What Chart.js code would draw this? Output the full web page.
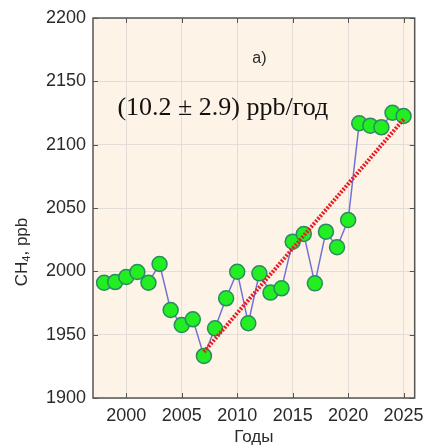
<!DOCTYPE html>
<html>
<head>
<meta charset="utf-8">
<script src="https://cdn.jsdelivr.net/npm/chart.js@4"></script>
<style>
  html, body { margin: 0; padding: 0; background: #fff; }
  #wrap { width: 431px; height: 448px; position: relative; }
</style>
</head>
<body>
<div id="wrap"><canvas id="ch4-chart" width="431" height="448"></canvas></div>
<script>
// Annual mean CH4, ppb
const years = [1998, 1999, 2000, 2001, 2002, 2003, 2004, 2005, 2006, 2007,
               2008, 2009, 2010, 2011, 2012, 2013, 2014, 2015, 2016, 2017,
               2018, 2019, 2020, 2021, 2022, 2023, 2024, 2025];
const ch4 = [1991, 1991.5, 1995.5, 1999.5, 1991, 2005.8, 1969.5, 1957.6, 1962.1, 1933.2,
             1955, 1978.7, 1999.7, 1959, 1998.4, 1983.2, 1986.6, 2023.4, 2029.5, 1990.5,
             2031.3, 2019, 2040.5, 2116.9, 2115, 2113.7, 2125.2, 2122.6];

// Linear trend 2007–2025, slope from the fit (ppb per year)
const trendYears = [2007, 2025];
const trendStart = 1936.4;
const trendSlope = 10.2;
const trendValues = trendYears.map(y => trendStart + trendSlope * (y - trendYears[0]));

const xTicks = [2000, 2005, 2010, 2015, 2020, 2025];
const yTicks = [1900, 1950, 2000, 2050, 2100, 2150, 2200];

const FONT = '"Liberation Sans", Arial, sans-serif';
const INK = '#2a2a2a';

// cream plot background, frame, inward tick marks and text labels
const framePlugin = {
  id: 'frame',
  beforeDraw(chart) {
    const a = chart.chartArea, c = chart.ctx;
    c.save();
    c.fillStyle = '#fdf3e6';
    c.fillRect(a.left, a.top, a.right - a.left, a.bottom - a.top);
    c.restore();
  },
  afterDraw(chart) {
    const a = chart.chartArea, c = chart.ctx;
    const xs = chart.scales.x, ys = chart.scales.y;
    c.save();
    c.strokeStyle = '#555';
    c.lineWidth = 1.5;
    c.strokeRect(a.left, a.top, a.right - a.left, a.bottom - a.top);
    c.lineWidth = 1;
    c.beginPath();
    xTicks.forEach(v => {
      const px = Math.round(xs.getPixelForValue(v)) + 0.5;
      c.moveTo(px, a.bottom); c.lineTo(px, a.bottom - 5);
      c.moveTo(px, a.top); c.lineTo(px, a.top + 5);
    });
    yTicks.forEach(v => {
      const py = Math.round(ys.getPixelForValue(v)) + 0.5;
      c.moveTo(a.left, py); c.lineTo(a.left + 5, py);
      c.moveTo(a.right, py); c.lineTo(a.right - 5, py);
    });
    c.stroke();

    c.fillStyle = INK;
    c.textAlign = 'center';
    c.textBaseline = 'middle';
    c.font = '16px ' + FONT;
    c.fillText('a)', xs.getPixelForValue(2012.0), ys.getPixelForValue(2168));
    c.fillStyle = '#111';
    c.font = '26px "Liberation Serif", "Times New Roman", serif';
    c.fillText('(10.2 ± 2.9) ppb/год', xs.getPixelForValue(2008.7), ys.getPixelForValue(2129));

    // y-axis title with subscript 4
    c.fillStyle = INK;
    c.translate(22, 252);
    c.rotate(-Math.PI / 2);
    c.textAlign = 'left';
    c.textBaseline = 'middle';
    const big = '17px ' + FONT, small = '11px ' + FONT;
    c.font = big;
    const w1 = c.measureText('CH').width, w3 = c.measureText(', ppb').width;
    c.font = small;
    const w2 = c.measureText('4').width;
    const x0 = -(w1 + w2 + w3) / 2;
    c.font = big;
    c.fillText('CH', x0, 0);
    c.font = small;
    c.fillText('4', x0 + w1, 5);
    c.font = big;
    c.fillText(', ppb', x0 + w1 + w2, 0);
    c.restore();
  },
};

new Chart(document.getElementById('ch4-chart').getContext('2d'), {
  type: 'line',
  data: {
    datasets: [
      {
        label: 'CH4',
        data: years.map((y, i) => ({ x: y, y: ch4[i] })),
        borderColor: '#7272d6',
        borderWidth: 1.5,
        pointRadius: 7.5,
        pointBackgroundColor: '#22ee22',
        pointBorderColor: '#2a8a62',
        pointBorderWidth: 1.5,
        tension: 0,
        order: 1,
      },
      {
        label: 'trend',
        data: trendYears.map((y, i) => ({ x: y, y: trendValues[i] })),
        borderColor: '#e81c24',
        borderWidth: 4,
        borderDash: [2, 1.5],
        pointRadius: 0,
        order: 0,
      },
    ],
  },
  options: {
    responsive: false,
    animation: false,
    layout: { padding: { top: 18, right: 11, left: 0, bottom: 0 } },
    plugins: { legend: { display: false }, tooltip: { enabled: false } },
    scales: {
      x: {
        type: 'linear',
        min: 1997,
        max: 2026,
        afterBuildTicks: s => { s.ticks = xTicks.map(v => ({ value: v })); },
        afterFit: s => { s.height = 50; },
        ticks: {
          font: { family: FONT, size: 18 },
          color: INK,
          padding: 7,
          maxRotation: 0,
          callback: v => String(v),
        },
        grid: { color: '#e2ddd6', drawTicks: false, lineWidth: 1 },
        border: { display: false },
        title: {
          display: true,
          text: 'Годы',
          font: { family: FONT, size: 17 },
          color: INK,
          padding: { top: 3, bottom: 0 },
        },
      },
      y: {
        min: 1900,
        max: 2200,
        afterBuildTicks: s => { s.ticks = yTicks.map(v => ({ value: v })); },
        afterFit: s => { s.width = 93; },
        ticks: {
          font: { family: FONT, size: 18 },
          color: INK,
          padding: 7,
          callback: v => String(v),
        },
        grid: { color: '#e2ddd6', drawTicks: false, lineWidth: 1 },
        border: { display: false },
      },
    },
  },
  plugins: [framePlugin],
});
</script>
</body>
</html>
